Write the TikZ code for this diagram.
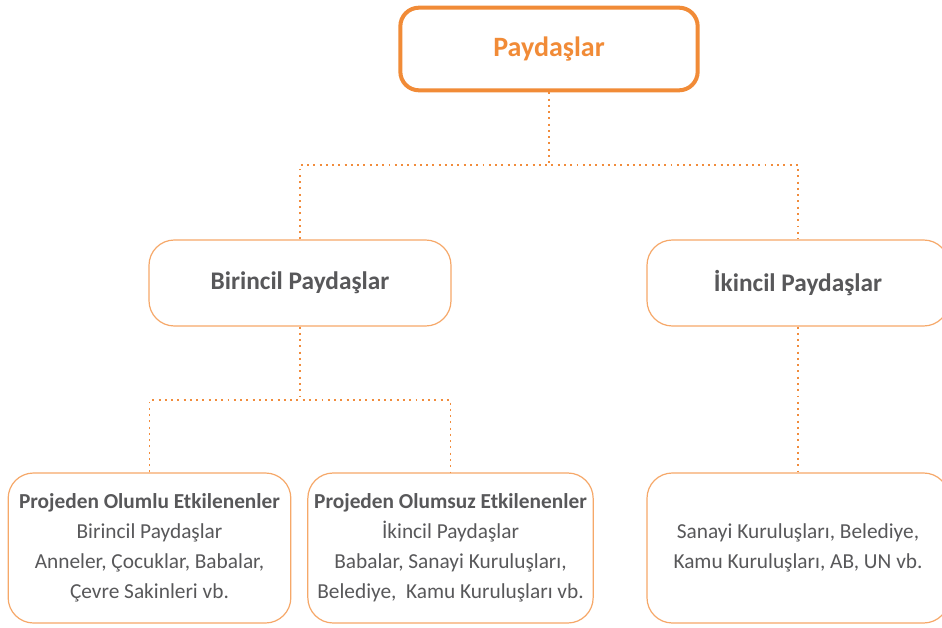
\documentclass[tikz,border=0pt]{standalone}
\usepackage{fontspec}
\setmainfont{Carlito}
\definecolor{orangeMain}{RGB}{241,139,55}
\definecolor{orangeSoft}{RGB}{246,168,105}
\definecolor{orangeDot}{RGB}{241,140,60}
\definecolor{textGray}{RGB}{88,88,90}
\begin{document}
\begin{tikzpicture}[x=0.75pt,y=-0.75pt,
  rootbox/.style={draw=orangeMain, line width=3pt, rounded corners=14pt,
    inner sep=0pt, fill=white},
  levelbox/.style={draw=orangeSoft, line width=0.9pt, rounded corners=19pt,
    inner sep=0pt, fill=white, text=textGray},
  dotline/.style={draw=orangeDot, line width=1.45pt, dash pattern=on 1.45pt off 3.25pt},
  bodytext/.style={align=center, font=\fontsize{16pt}{22.4pt}\selectfont}
]
\useasboundingbox (0,0) rectangle (942,628);
\clip (0,0) rectangle (942,628);
\fill[white] (0,0) rectangle (942,628);

% root
\node[rootbox, minimum width=223pt, minimum height=62pt, text=orangeMain,
  font=\fontsize{21pt}{24pt}\selectfont\bfseries] (root) at (549,49) {Paydaşlar};

% second level
\node[levelbox, minimum width=226.5pt, minimum height=64.5pt,
  font=\fontsize{19pt}{22pt}\selectfont\bfseries] (prim) at (300,283) {Birincil Paydaşlar};
\node[levelbox, minimum width=226.5pt, minimum height=64.5pt,
  font=\fontsize{19pt}{22pt}\selectfont\bfseries] (sec) at (798,283) {İkincil Paydaşlar};

% third level
\node[levelbox, minimum width=212pt, minimum height=112.5pt, bodytext] (pos) at (149.5,548)
  {\textbf{Projeden Olumlu Etkilenenler}\\Birincil Paydaşlar\\Anneler, Çocuklar, Babalar,\\Çevre Sakinleri vb.};
\node[levelbox, minimum width=214pt, minimum height=112.5pt, bodytext] (neg) at (450.5,548)
  {\textbf{Projeden Olumsuz Etkilenenler}\\İkincil Paydaşlar\\Babalar, Sanayi Kuruluşları,\\Belediye,\ \ Kamu Kuruluşları vb.};
\node[levelbox, minimum width=226.5pt, minimum height=112.5pt, bodytext] (oth) at (798,548)
  {Sanayi Kuruluşları, Belediye,\\Kamu Kuruluşları, AB, UN vb.};

% connectors
\coordinate (hubA) at (549,165);
\coordinate (hubB) at (300,400);
\draw[dotline] (root.south) -- (hubA);
\draw[dotline] (prim.north) |- (hubA) -| (sec.north);
\draw[dotline] (prim.south) -- (hubB);
\draw[dotline] (pos.north) |- (hubB) -| (neg.north);
\draw[dotline] (sec.south) -- (oth.north);
\end{tikzpicture}
\end{document}
